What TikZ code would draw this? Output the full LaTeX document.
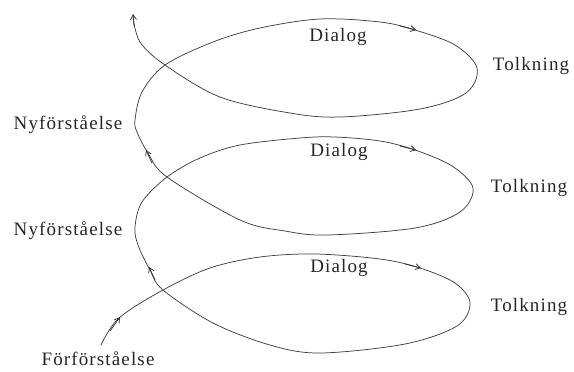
\documentclass[tikz,border=0pt]{standalone}
\usepackage{fontspec}
\setmainfont[LetterSpace=6]{Liberation Serif}
\usetikzlibrary{arrows.meta}
\tikzset{
  spiral/.style={draw=black!75, line width=0.75bp},
  tip/.style={draw=black!80, line width=0.75bp, -{Straight Barb[length=5bp,width=6bp]}},
  lbl/.style={font=\fontsize{19bp}{22bp}\selectfont, text=black!85, anchor=base, inner sep=0pt}
}
\begin{document}
\begin{tikzpicture}[x=1bp,y=-1bp]
\useasboundingbox (0,0) rectangle (574,371);
% spiral
\draw[spiral] plot[smooth, tension=0.55] coordinates {
 (101,345) (119,318) (163,290) (210,268) (260,257) (315,254) (380,259) (420,268) (455,283) (470,303) (457,326) (405,344) (320,353) (270,345) (213,323)
 (163,290) (150,270) (138,245) (135,227) (142,202) (167,177) (200,158) (240,145) (300,138) (335,137) (380,141) (415,150) (452,166) (473,188) (460,212) (415,228) (327,235) (285,231) (240,220)
 (167,177) (148,153) (137,132) (135,120) (142,92) (165,65) (213,42) (260,28) (320,19) (380,22) (415,30) (455,45) (477,68) (466,93) (420,109) (340,117) (290,113) (220,97)
 (165,65) (140,42) (133,17)};
% arrowheads
\coordinate (a1s) at (110,331); \coordinate (a1e) at (120,317);
\coordinate (a2s) at (155,280); \coordinate (a2e) at (149,267);
\coordinate (a3s) at (405,264); \coordinate (a3e) at (421,268);
\coordinate (a4s) at (152,163); \coordinate (a4e) at (146,150);
\coordinate (a5s) at (400,146); \coordinate (a5e) at (416,150);
\coordinate (a6s) at (400,26);  \coordinate (a6e) at (416,30);
\coordinate (a7s) at (134,26);  \coordinate (a7e) at (133,14);
\foreach \i in {1,...,7} \draw[tip] (a\i s) -- (a\i e);
% labels
\node[lbl] (d1) at (338,41) {Dialog};
\node[lbl] (d2) at (339,156) {Dialog};
\node[lbl] (d3) at (339,272) {Dialog};
\node[lbl] (t1) at (531,70) {Tolkning};
\node[lbl] (t2) at (529,192) {Tolkning};
\node[lbl] (t3) at (529,311) {Tolkning};
\node[lbl] (n1) at (68,129) {Nyförståelse};
\node[lbl] (n2) at (68,235) {Nyförståelse};
\node[lbl] (f1) at (98,365) {Förförståelse};
\end{tikzpicture}
\end{document}
